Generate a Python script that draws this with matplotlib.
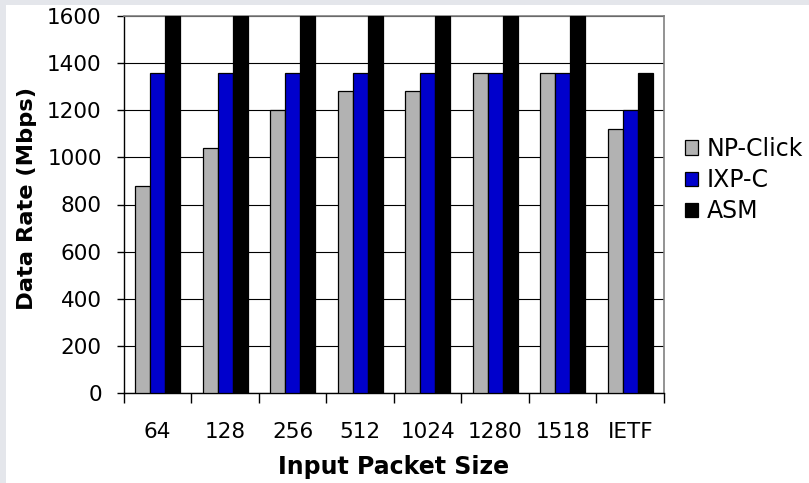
import matplotlib
matplotlib.use("Agg")
import matplotlib.pyplot as plt
import numpy as np
from matplotlib.patches import Rectangle

categories = ["64", "128", "256", "512", "1024", "1280", "1518", "IETF"]
np_click = [880, 1040, 1200, 1280, 1280, 1360, 1360, 1120]
ixp_c = [1360, 1360, 1360, 1360, 1360, 1360, 1360, 1200]
asm = [1600, 1600, 1600, 1600, 1600, 1600, 1600, 1360]
series_names = ["NP-Click", "IXP-C", "ASM"]
series_colors = ["#b2b2b2", "#0000cc", "#000000"]
y_ticks = [0, 200, 400, 600, 800, 1000, 1200, 1400, 1600]

plt.rcParams['font.family'] = ['DejaVu Sans']
W, H = 809, 483
fig = plt.figure(figsize=(W / 100, H / 100), dpi=100, facecolor="white")

# gray border strips (top and left)
bg = "#e4e6eb"
fig.patches.append(Rectangle((0, 1 - 5 / H), 1, 5 / H, transform=fig.transFigure,
                             facecolor=bg, edgecolor="none", zorder=-1))
fig.patches.append(Rectangle((0, 0), 6 / W, 1, transform=fig.transFigure,
                             facecolor=bg, edgecolor="none", zorder=-1))

left, right, top, bottom = 124, 664, 16, 393
ax = fig.add_axes([left / W, 1 - bottom / H, (right - left) / W, (bottom - top) / H])

x = np.arange(len(categories))
bw = 0.222
fs = 15.5
for i, (vals, name, col) in enumerate(zip([np_click, ixp_c, asm], series_names, series_colors)):
    ax.bar(x + (i - 1) * bw, vals, width=bw, color=col, edgecolor="black",
           linewidth=0.9, label=name, zorder=3)

ax.set_xlim(-0.5, len(categories) - 0.5)
ax.set_ylim(0, 1600)
ax.set_yticks(y_ticks)
ax.set_yticklabels([str(v) for v in y_ticks], fontsize=fs)
ax.yaxis.grid(True, color="#000000", linewidth=0.8, zorder=0)
ax.set_axisbelow(True)

ax.set_xticks(x)
ax.set_xticklabels(categories, fontsize=fs)
ax.set_xticks(np.arange(-0.5, len(categories) + 0.5, 1), minor=True)
ax.tick_params(axis="x", which="major", length=0, pad=21)
ax.tick_params(axis="x", which="minor", length=7, width=1, direction="out")
ax.tick_params(axis="y", length=5, width=1, direction="out", pad=11)

for s in ["top", "right"]:
    ax.spines[s].set_color("#808080")
    ax.spines[s].set_linewidth(1.2)
for s in ["left", "bottom"]:
    ax.spines[s].set_color("black")
    ax.spines[s].set_linewidth(1)

ax.set_xlabel("Input Packet Size", fontsize=17, fontweight="bold", labelpad=9)
ax.set_ylabel("Data Rate (Mbps)", fontsize=16.2, fontweight="bold")
ax.yaxis.set_label_coords(-0.161, 0.515)

leg = ax.legend(loc="center left", bbox_to_anchor=(1.0, 0.565), frameon=False,
                fontsize=17, handlelength=0.55, handleheight=0.55,
                handletextpad=0.35, labelspacing=0.3, borderaxespad=0.5)

fig.savefig("out.png", dpi=100, facecolor=fig.get_facecolor())
